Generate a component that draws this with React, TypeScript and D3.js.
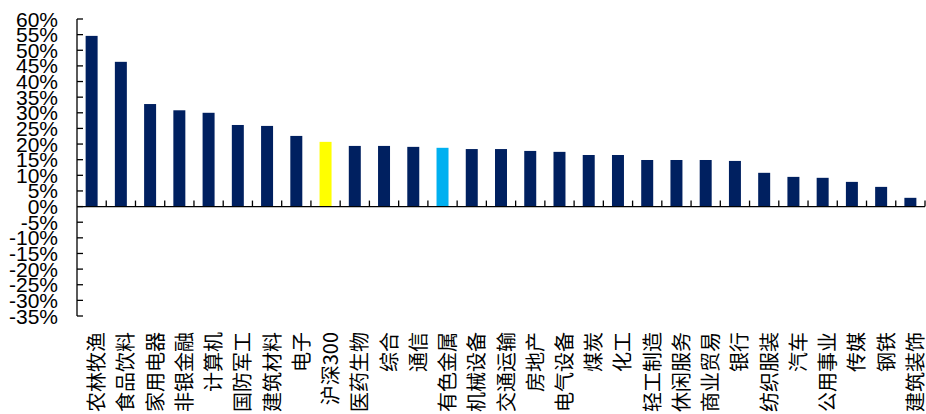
import React from "react";
import * as d3 from "d3";

// Industry names, in chart order
const categories: string[] = [
  "农林牧渔", "食品饮料", "家用电器", "非银金融", "计算机", "国防军工", "建筑材料", "电子",
  "沪深300", "医药生物", "综合", "通信", "有色金属", "机械设备", "交通运输", "房地产",
  "电气设备", "煤炭", "化工", "轻工制造", "休闲服务", "商业贸易", "银行", "纺织服装",
  "汽车", "公用事业", "传媒", "钢铁", "建筑装饰",
];

// Returns in percent
const values: number[] = [
  54.6, 46.3, 32.8, 30.8, 30.0, 26.1, 25.8, 22.6,
  20.7, 19.4, 19.4, 19.1, 18.8, 18.4, 18.4, 17.8,
  17.5, 16.5, 16.5, 14.9, 14.9, 14.9, 14.6, 10.8,
  9.5, 9.2, 7.9, 6.3, 2.8,
];

// Y axis tick values (percent)
const yTicks: number[] = d3.range(-35, 61, 5);

const highlight: Record<string, string> = {
  "沪深300": "#FFFF00",
  "有色金属": "#00B0F0",
};
const baseColor = "#002060";

const W = 926;
const H = 414;
const left = 77;
const right = 925;
const top = 19;
const bottom = 316;

export default function App() {
  const x = d3.scaleBand<string>().domain(categories).range([left, right]).paddingInner(0.59).paddingOuter(0.295);
  const band = d3.scaleBand<string>().domain(categories).range([left, right]).padding(0);
  const y = d3.scaleLinear().domain([-35, 60]).range([bottom, top]);
  const y0 = y(0);

  return (
    <svg
      width={W}
      height={H}
      style={{ position: "absolute", left: 0, top: 0, background: "#fff" }}
    >
      {/* bars */}
      {categories.map((c, i) => (
        <rect
          key={c}
          x={x(c)}
          y={y(Math.max(0, values[i]))}
          width={x.bandwidth()}
          height={Math.abs(y(values[i]) - y0)}
          fill={highlight[c] ?? baseColor}
        />
      ))}

      {/* y axis */}
      <line x1={left} x2={left} y1={top} y2={bottom} stroke="#000" strokeWidth={1.3} />
      {yTicks.map((t) => (
        <g key={t}>
          <line x1={left} x2={left + 6} y1={y(t)} y2={y(t)} stroke="#000" strokeWidth={1.3} />
          <text
            x={58}
            y={y(t)}
            textAnchor="end"
            dominantBaseline="central"
            fontFamily="'Liberation Sans', Arial, sans-serif"
            fontSize={21}
            fill="#000"
          >
            {`${t}%`}
          </text>
        </g>
      ))}

      {/* x axis at zero */}
      <line x1={left} x2={right} y1={y0} y2={y0} stroke="#000" strokeWidth={1.3} />
      {categories.map((c) => (
        <line
          key={`t-${c}`}
          x1={(band(c) ?? 0) + band.bandwidth()}
          x2={(band(c) ?? 0) + band.bandwidth()}
          y1={y0}
          y2={y0 - 6}
          stroke="#000"
          strokeWidth={1.3}
        />
      ))}

      {/* category labels */}
      {categories.map((c) => {
        const cx = (band(c) ?? 0) + band.bandwidth() / 2 + 4;
        const cy = 332;
        return (
          <text
            key={`l-${c}`}
            transform={`translate(${cx},${cy}) rotate(-90)`}
            textAnchor="end"
            dominantBaseline="central"
            fontFamily="'Noto Sans CJK SC', sans-serif"
            fontSize={20}
            fill="#000"
          >
            {c}
          </text>
        );
      })}
    </svg>
  );
}
